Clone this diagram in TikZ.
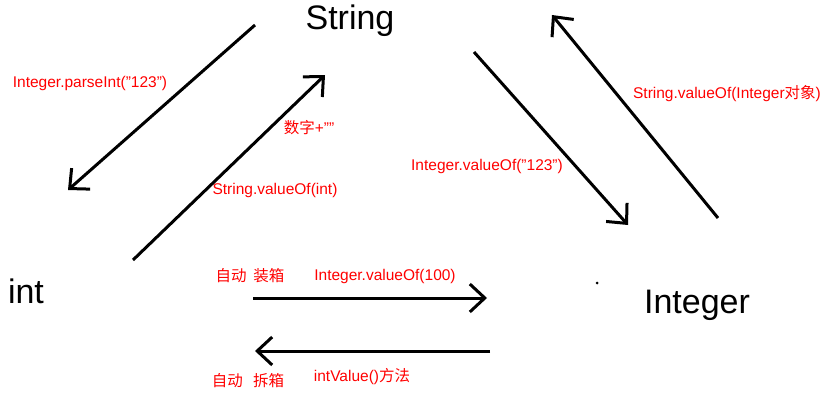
\documentclass[tikz,border=0pt]{standalone}
\usepackage{fontspec}
\setmainfont{Liberation Sans}
\newfontfamily\cjk{Noto Sans CJK SC}
\usetikzlibrary{arrows.meta}
\tikzset{conv/.style={line width=3pt,-{Straight Barb[length=15pt,width=28pt,line width=3pt]}}}
\tikzset{lbl/.style={text=red,font=\fontsize{15.5}{17}\selectfont,inner sep=0pt}}
\tikzset{typ/.style={font=\fontsize{34}{38}\selectfont,inner sep=0pt}}
\begin{document}
\begin{tikzpicture}[x=1pt,y=-1pt]
        \useasboundingbox (0,0) rectangle (832,404);
        \node[typ] (str) at (350,21) {String};
        \node[typ] (int) at (26,291) {int};
        \node[typ] (integer) at (697,305) {Integer};

        \coordinate (a1) at (255,25);  \coordinate (b1) at (68,190);
        \coordinate (a2) at (133,260); \coordinate (b2) at (325,75);
        \coordinate (a3) at (474,52);  \coordinate (b3) at (628,225);
        \coordinate (a4) at (718,218); \coordinate (b4) at (552,15);
        \coordinate (a5) at (253,298); \coordinate (b5) at (487,298);
        \coordinate (a6) at (490,351); \coordinate (b6) at (255,351);

        \draw[conv] (a1) -- (b1);
        \draw[conv] (a2) -- (b2);
        \draw[conv] (a3) -- (b3);
        \draw[conv] (a4) -- (b4);
        \draw[conv] (a5) -- (b5);
        \draw[conv] (a6) -- (b6);

        \fill (597,283) circle (1.5);

        \node[lbl] (l1) at (90,83) {Integer.parseInt("123")};
        \node[lbl] (l2) at (309,128) {{\cjk 数字}+""};
        \node[lbl] (l3) at (275,190) {String.valueOf(int)};
        \node[lbl] (l4) at (487,166) {Integer.valueOf("123")};
        \node[lbl] (l5) at (727,94) {String.valueOf(Integer{\cjk 对象})};
        \node[lbl] (l6) at (250,276) {\cjk 自动\ \ 装箱};
        \node[lbl] (l7) at (385,276) {Integer.valueOf(100)};
        \node[lbl] (l8) at (248,381) {\cjk 自动\ \ \ 拆箱};
        \node[lbl] (l9) at (362,377) {intValue(){\cjk 方法}};
    \end{tikzpicture}
\end{document}
